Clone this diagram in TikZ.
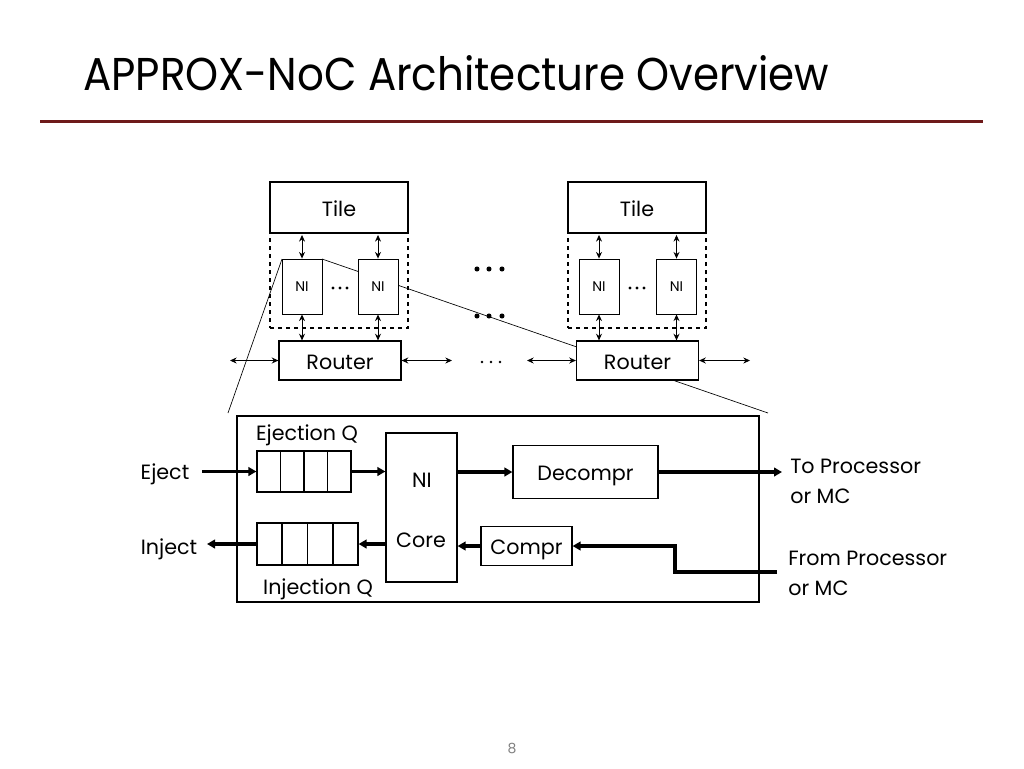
\documentclass[tikz,border=0pt]{standalone}
\usepackage{fontspec}
\setmainfont{Poppins}
\newfontfamily\titlefont{Poppins}[FakeStretch=0.913]
\usetikzlibrary{arrows.meta,calc}
\definecolor{rulered}{HTML}{6E1A1A}
\newcommand\labfont{\fontsize{15.5}{19}\selectfont}
\newcommand\smallfont{\fontsize{10.5}{12}\selectfont}
\begin{document}
\begin{tikzpicture}[x=0.75pt,y=-0.75pt,
  box/.style={draw, line width=0.9pt, fill=white, inner sep=0pt, font=\labfont, text height=13pt, text depth=0pt},
  nibox/.style={draw, line width=0.6pt, fill=white, inner sep=0pt, font=\smallfont, text height=7pt, text depth=0pt, minimum width=30pt, minimum height=41.25pt},
  dashbox/.style={draw, dashed, line width=0.9pt, inner sep=0pt, minimum width=103.5pt, minimum height=71.25pt},
  tilebox/.style={box, minimum width=103.5pt, minimum height=38.25pt},
  routerbox/.style={box, minimum width=91.5pt, minimum height=29.25pt},
  lab/.style={inner sep=0pt, font=\labfont, text height=10.5pt, text depth=0pt},
  dbl/.style={line width=0.7pt, {Stealth[length=5pt,width=4.5pt]}-{Stealth[length=5pt,width=4.5pt]}},
  thk/.style={line width=2.3pt, -{Triangle[length=6pt,width=6.5pt]}},
  zoomline/.style={line width=0.5pt},
  dot/.style={fill=black}
]
\useasboundingbox (0,0) rectangle (1024,768);

% title
\node[anchor=base west, inner sep=0pt, font=\titlefont\fontsize{34.5}{40}\selectfont] (title) at (83,90) {APPROX-NoC Architecture Overview};
\coordinate (ruleA) at (40,121);
\coordinate (ruleB) at (983,121);
\draw[line width=2.25pt, rulered] (ruleA) -- (ruleB);
\node[inner sep=0pt, font=\fontsize{10.5}{12}\selectfont, text=black!50] (pg) at (512,748) {8};

% dashed frames
\node[dashbox] (dL) at (339,280.5) {};
\node[dashbox] (dR) at (637,280.5) {};

% zoom lines (behind boxes)
\coordinate (zl) at (228,413);
\coordinate (zr) at (768,413);
\coordinate (niLaNW) at (282,259);
\coordinate (niLaNE) at (322,259);
\draw[zoomline] (niLaNW) -- (zl);
\draw[zoomline] (niLaNE) -- (zr);

% left group
\node[tilebox] (tL) at (339,207.5) {Tile};
\node[nibox] (niLa) at (302,286.5) {NI};
\node[nibox] (niLb) at (378,286.5) {NI};
\node[routerbox] (rL) at (340,360.5) {Router};
% right group
\node[tilebox] (tR) at (637,207.5) {Tile};
\node[nibox] (niRa) at (599,286.5) {NI};
\node[nibox] (niRb) at (676.5,286.5) {NI};
\node[routerbox] (rR) at (637.5,360.5) {Router};

% vertical double arrows
\foreach \n/\t/\r in {niLa/tL/rL, niLb/tL/rL, niRa/tR/rR, niRb/tR/rR}{
  \draw[dbl, shorten <=1pt] (\n.north |- \t.south) -- (\n.north);
  \draw[dbl] (\n.south) -- (\n.south |- \r.north);
}
% side arrows
\coordinate (lA) at (230,360.5);
\coordinate (lB) at (452,360.5);
\coordinate (rA) at (527,360.5);
\coordinate (rB) at (750,360.5);
\draw[dbl] (lA) -- (rL.west);
\draw[dbl] (rL.east) -- (lB);
\draw[dbl] (rA) -- (rR.west);
\draw[dbl] (rR.east) -- (rB);

% dots
\foreach \x in {477,489,502}{
  \fill[dot] (\x,269) circle (1.9pt);
  \fill[dot] (\x,316) circle (1.9pt);
}
\foreach \x in {482,491,500}{ \fill[dot] (\x,362) circle (1.1pt); }
\foreach \x in {333,340,347}{ \fill[dot] (\x,288) circle (1.2pt); }
\foreach \x in {630,637,644}{ \fill[dot] (\x,288) circle (1.2pt); }

% big box
\node[box, minimum width=391.5pt, minimum height=139.5pt] (big) at (498,509) {};

\node[lab] (ejt) at (307,433.5) {Ejection Q};
\node[lab] (ijt) at (318,587.5) {Injection Q};
\node[box, minimum width=70.5pt, minimum height=30.75pt] (ejq) at (304,471.5) {};
\node[box, minimum width=75.75pt, minimum height=31.5pt] (injq) at (307.5,544) {};
\foreach \q in {ejq,injq}{
  \foreach \i in {1,2,3}{
    \draw[line width=0.9pt] ($(\q.south west)!\i/4!(\q.south east)$) -- ($(\q.north west)!\i/4!(\q.north east)$);
  }
}
\node[box, minimum width=53.25pt, minimum height=111.75pt] (nic) at (421.5,507.5) {};
\node[lab] (nit) at (422,480) {NI};
\node[lab] (cot) at (421,540) {Core};
\node[box, minimum width=108.75pt, minimum height=39.75pt] (dec) at (585.5,472) {Decompr};
\node[box, minimum width=68.25pt, minimum height=29.25pt] (comp) at (526.5,546) {Compr};

\node[lab] (eject) at (165,472.5) {Eject};
\node[lab] (inject) at (169,547) {Inject};
\node[inner sep=0pt, font=\labfont, anchor=base west] (top1) at (790,473) {To Processor};
\node[inner sep=0pt, font=\labfont, anchor=base west] (top2) at (790,503) {or MC};
\node[inner sep=0pt, font=\labfont, anchor=base west] (from1) at (788,565) {From Processor};
\node[inner sep=0pt, font=\labfont, anchor=base west] (from2) at (788,595) {or MC};

% thick arrows
\coordinate (ejs) at (202,471.5);
\coordinate (ije) at (207,544);
\coordinate (toe) at (782,472);
\coordinate (fps) at (777,572);
\draw[thk] (ejs) -- (ejq.west);
\draw[thk] (ejq.east) -- (ejq.east -| nic.west);
\draw[thk] (nic.east |- dec.west) -- (dec.west);
\draw[thk] (dec.east) -- (toe);
\draw[thk] (comp.west) -- (comp.west -| nic.east);
\draw[thk] (injq.east -| nic.west) -- (injq.east);
\draw[thk] (injq.west) -- (ije);
\draw[thk] (fps) -- ++(-102,0) |- (comp.east);
\end{tikzpicture}
\end{document}
